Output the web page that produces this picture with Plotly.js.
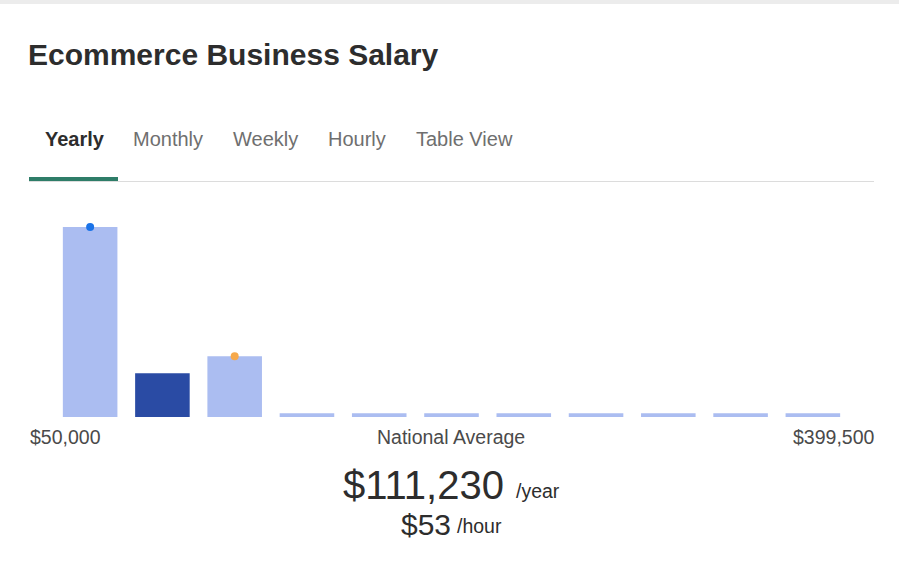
<!DOCTYPE html>
<html>
<head>
<meta charset="utf-8">
<script src="https://cdn.plot.ly/plotly-3.0.1.min.js"></script>
<style>
html,body{margin:0;padding:0;background:#fff;}
#chart{width:899px;height:571px;}
</style>
</head>
<body>
<div id="chart"></div>
<script>
// ---- data ----
const categories = ["$50k–$82k","$82k–$114k","$114k–$145k","$145k–$177k","$177k–$209k","$209k–$241k","$241k–$273k","$273k–$304k","$304k–$336k","$336k–$368k","$368k–$400k"];
const shares = [100, 23, 32, 2, 2, 2, 2, 2, 2, 2, 2];
const highlightIndex = 1;
const markerBlueIndex = 0;
const markerOrangeIndex = 2;
const tabs = ["Yearly","Monthly","Weekly","Hourly","Table View"];
const axisLabels = ["$50,000","National Average","$399,500"];
const titleText = "Ecommerce Business Salary";
const avgYear = "$111,230";
const avgHour = "$53";

// ---- layout geometry ----
const W = 899, H = 571;
const L = 54, R = 50, T = 200, B = 154;
const PW = W - L - R, PH = H - T - B;
const px = x => (x - L) / PW;
const py = y => (H - B - y) / PH;

const light = "#abbdf1", dark = "#2a4ba4";
const barColors = shares.map((_, i) => i === highlightIndex ? dark : light);

const traces = [
  {
    type: "bar", x: categories, y: shares,
    marker: {color: barColors}, hoverinfo: "skip", showlegend: false
  },
  {
    type: "scatter", mode: "markers",
    x: [categories[markerBlueIndex]], y: [shares[markerBlueIndex]],
    marker: {color: "#1a73e8", size: 8}, hoverinfo: "skip", showlegend: false, cliponaxis: false
  },
  {
    type: "scatter", mode: "markers",
    x: [categories[markerOrangeIndex]], y: [shares[markerOrangeIndex]],
    marker: {color: "#f6a94b", size: 8}, hoverinfo: "skip", showlegend: false, cliponaxis: false
  }
];

const font = "Liberation Sans, Arial, sans-serif";
const ann = [];
// tabs
const tabX = [43, 131, 231, 326, 414];
tabs.forEach((t, i) => {
  ann.push({
    xref: "paper", yref: "paper", x: px(tabX[i]), y: py(139),
    xanchor: "left", yanchor: "middle", showarrow: false, text: i === 0 ? "<b>" + t + "</b>" : t,
    font: {family: font, size: 20, color: i === 0 ? "#2d2d2d" : "#6f6f6f"}
  });
});
// axis labels
ann.push({xref:"paper",yref:"paper",x:px(28),y:py(437),xanchor:"left",yanchor:"middle",showarrow:false,text:axisLabels[0],font:{family:font,size:19.5,color:"#4a4a4a"}});
ann.push({xref:"paper",yref:"paper",x:px(451),y:py(437),xanchor:"center",yanchor:"middle",showarrow:false,text:axisLabels[1],font:{family:font,size:19.5,color:"#4a4a4a"}});
ann.push({xref:"paper",yref:"paper",x:px(876),y:py(437),xanchor:"right",yanchor:"middle",showarrow:false,text:axisLabels[2],font:{family:font,size:19.5,color:"#4a4a4a"}});
// averages
ann.push({xref:"paper",yref:"paper",x:px(506),y:py(485),xanchor:"right",yanchor:"middle",showarrow:false,text:avgYear,font:{family:font,size:40,color:"#2d2d2d"}});
ann.push({xref:"paper",yref:"paper",x:px(514),y:py(491),xanchor:"left",yanchor:"middle",showarrow:false,text:"/year",font:{family:font,size:19.5,color:"#2d2d2d"}});
ann.push({xref:"paper",yref:"paper",x:px(453),y:py(524),xanchor:"right",yanchor:"middle",showarrow:false,text:avgHour,font:{family:font,size:30,color:"#2d2d2d"}});
ann.push({xref:"paper",yref:"paper",x:px(455),y:py(526),xanchor:"left",yanchor:"middle",showarrow:false,text:"/hour",font:{family:font,size:19.5,color:"#2d2d2d"}});

const shapes = [
  {type:"rect",xref:"paper",yref:"paper",x0:px(0),x1:px(899),y0:py(0),y1:py(4),fillcolor:"#ececec",line:{width:0}},
  {type:"rect",xref:"paper",yref:"paper",x0:px(29),x1:px(874),y0:py(181),y1:py(182),fillcolor:"#dcdcdc",line:{width:0}},
  {type:"rect",xref:"paper",yref:"paper",x0:px(29),x1:px(118),y0:py(177),y1:py(181),fillcolor:"#2e7d68",line:{width:0}}
];

const layout = {
  width: W, height: H,
  margin: {l: L, r: R, t: T, b: B, pad: 0},
  paper_bgcolor: "#fff", plot_bgcolor: "#fff",
  title: {text: "<b>" + titleText + "</b>", xref: "container", yref: "container", x: 28/W, xanchor: "left", y: 1 - 54/H, yanchor: "middle",
          font: {family: font, size: 30, color: "#2d2d2d"}},
  xaxis: {visible: false, type: "category", range: [-0.5, categories.length - 0.5], fixedrange: true},
  yaxis: {visible: false, range: [0, 100 * PH / 190], fixedrange: true},
  bargap: 0.245,
  showlegend: false,
  annotations: ann,
  shapes: shapes
};

Plotly.newPlot("chart", traces, layout, {displayModeBar: false, staticPlot: true});
</script>
</body>
</html>
